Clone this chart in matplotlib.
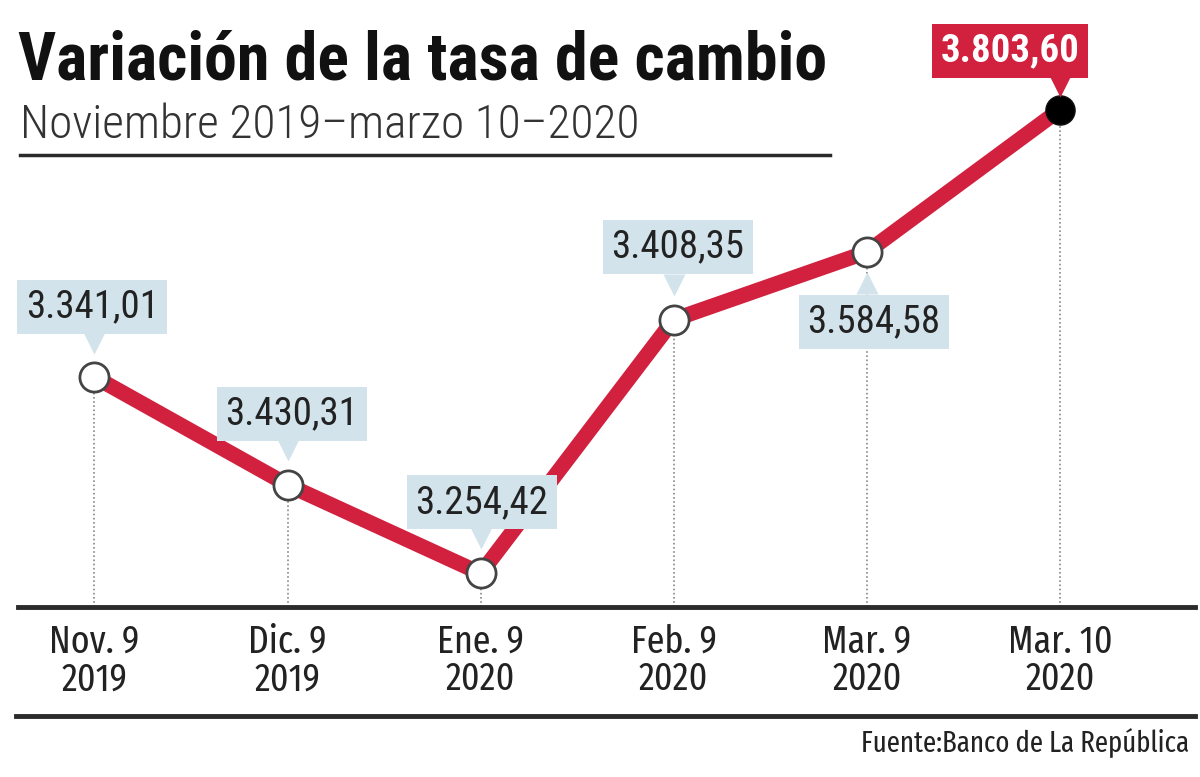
import matplotlib.pyplot as plt
from matplotlib import transforms

# Datos
fechas = ['Nov. 9\n2019', 'Dic. 9\n2019', 'Ene. 9\n2020', 'Feb. 9\n2020', 'Mar. 9\n2020', 'Mar. 10\n2020']
etiquetas = ['3.341,01', '3.430,31', '3.254,42', '3.408,35', '3.584,58', '3.803,60']
# altura de la linea (escala del eje vertical)
nivel = [3487, 3359, 3254, 3555, 3635, 3804]

rojo = '#d2203f'
azul = '#d2e3ec'
oscuro = '#222222'
cond = ['Roboto Condensed', 'DejaVu Sans']
extra = ['Fira Sans Extra Condensed', 'DejaVu Sans']

fig = plt.figure(figsize=(12, 7.77), dpi=100)
ax = fig.add_axes([0, 0, 1, 1])
ax.set_xlim(-0.489, 5.725)
ax.set_ylim(3012.5, 3934.0)
ax.axis('off')

x = list(range(len(nivel)))
base = 3214.1

# lineas punteadas verticales
ax.vlines(x, base, nivel, colors='#888888', linestyles=(0, (1, 1.5)), linewidth=1.2, zorder=1)

# linea principal
ax.plot(x, nivel, color=rojo, linewidth=11, solid_capstyle='butt', zorder=2)
ax.plot(x[:-1], nivel[:-1], 'o', ms=21, mfc='white', mec='#444444', mew=2, zorder=3)
ax.plot(x[-1:], nivel[-1:], 'o', ms=21, mfc='black', mec='#111111', mew=1, zorder=3)

# etiquetas con su flecha (desplazamientos en pixeles)
desp = [(-2, 70), (4, 71), (1, 71), (4, 73), (7, -70), (-50, 59)]
flecha = [(0, 34), (0, 35), (0, 35), (0, 35), (0, -31), (0, 24)]
for i in range(len(nivel)):
    ultimo = i == len(nivel) - 1
    fc = rojo if ultimo else azul
    ax.annotate(etiquetas[i], xy=(x[i], nivel[i]), xytext=desp[i], textcoords='offset pixels',
                ha='center', va='center', fontsize=28, family=cond,
                fontweight='bold' if ultimo else 'normal',
                color='white' if ultimo else oscuro,
                bbox=dict(boxstyle='square,pad=0.22', fc=fc, ec='none'), zorder=5)
    tr = transforms.offset_copy(ax.transData, fig=fig, x=flecha[i][0], y=flecha[i][1], units='dots')
    ax.plot(x[i], nivel[i], marker='^' if flecha[i][1] < 0 else 'v', ms=16, color=fc,
            mec='none', transform=tr, zorder=4)

# fechas
for i in range(len(fechas)):
    ax.text(x[i], 3195, fechas[i], ha='center', va='top', fontsize=28, family=extra,
            fontweight='normal', color=oscuro, linespacing=1.0)

# reglas horizontales
fig.add_artist(plt.Line2D([0.015, 0.996], [1 - 607 / 777] * 2, color='#2b2b2b', lw=3.5))
fig.add_artist(plt.Line2D([0.013, 0.996], [1 - 716 / 777] * 2, color='#2b2b2b', lw=3.5))
fig.add_artist(plt.Line2D([0.017, 0.692], [1 - 155 / 777] * 2, color='#2b2b2b', lw=2.5))

# titulos
fig.text(0.015, 1 - 80 / 777, 'Variación de la tasa de cambio', fontsize=47.5, fontweight='bold',
         family=cond, color='#111111', va='baseline')
fig.text(0.017, 1 - 138 / 777, 'Noviembre 2019–marzo 10–2020', fontsize=34, fontweight='light',
         family=cond, color='#333333', va='baseline')
fig.text(0.991, 1 - 752 / 777, 'Fuente:Banco de La República', fontsize=21, family=extra,
         color=oscuro, ha='right', va='baseline')

fig.savefig('out.png', dpi=100)
